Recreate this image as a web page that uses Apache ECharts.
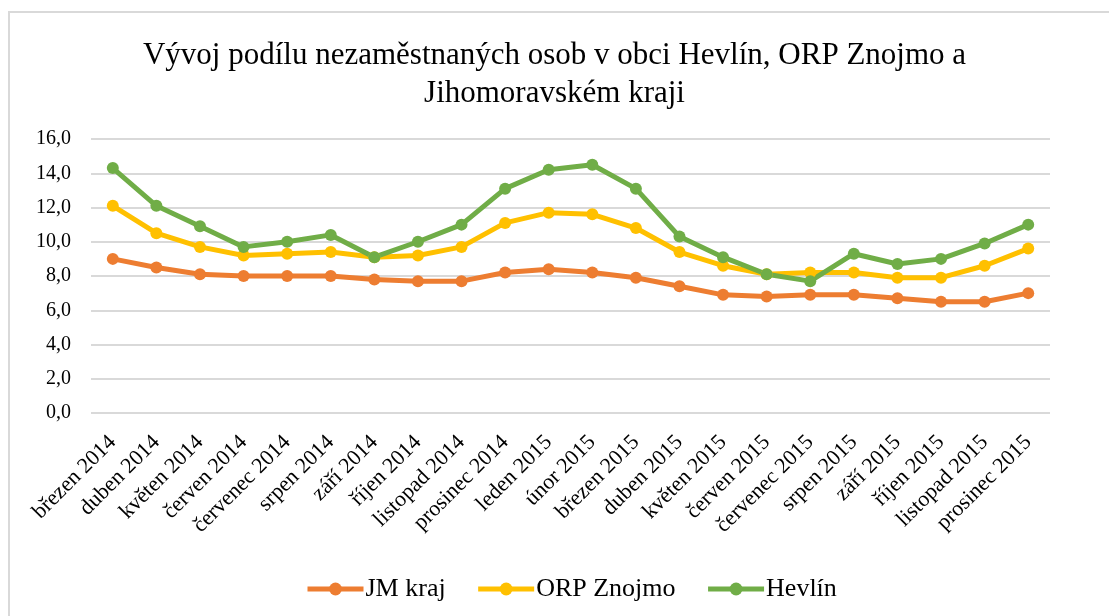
<!DOCTYPE html>
<html>
<head>
<meta charset="utf-8">
<script src="https://cdn.jsdelivr.net/npm/echarts@6/dist/echarts.min.js"></script>
<style>
  html, body { margin: 0; padding: 0; background: #fff; overflow: hidden; }
  #frame { position: absolute; left: 8px; top: 11px; width: 1200px; height: 700px;
           border-left: 2px solid #d9d9d9; border-top: 2px solid #d9d9d9; }
  #chart { position: absolute; left: 0; top: 0; width: 1109px; height: 616px; }
</style>
</head>
<body>
<div id="frame"></div>
<div id="chart"></div>
<script>
const months = ['březen 2014', 'duben 2014', 'květen 2014', 'červen 2014', 'červenec 2014',
  'srpen 2014', 'září 2014', 'říjen 2014', 'listopad 2014', 'prosinec 2014',
  'leden 2015', 'únor 2015', 'březen 2015', 'duben 2015', 'květen 2015', 'červen 2015',
  'červenec 2015', 'srpen 2015', 'září 2015', 'říjen 2015', 'listopad 2015', 'prosinec 2015'];

const jmKraj = [9.0, 8.5, 8.1, 8.0, 8.0, 8.0, 7.8, 7.7, 7.7, 8.2,
  8.4, 8.2, 7.9, 7.4, 6.9, 6.8, 6.9, 6.9, 6.7, 6.5, 6.5, 7.0];
const orpZnojmo = [12.1, 10.5, 9.7, 9.2, 9.3, 9.4, 9.1, 9.2, 9.7, 11.1,
  11.7, 11.6, 10.8, 9.4, 8.6, 8.1, 8.2, 8.2, 7.9, 7.9, 8.6, 9.6];
const hevlin = [14.3, 12.1, 10.9, 9.7, 10.0, 10.4, 9.1, 10.0, 11.0, 13.1,
  14.2, 14.5, 13.1, 10.3, 9.1, 8.1, 7.7, 9.3, 8.7, 9.0, 9.9, 11.0];

const serif = '"Liberation Serif", "DejaVu Serif", serif';

const chart = echarts.init(document.getElementById('chart'));

function line(name, data, color) {
  return {
    name: name,
    type: 'line',
    data: data,
    symbol: 'circle',
    symbolSize: 12,
    lineStyle: { width: 5, color: color },
    itemStyle: { color: color },
    emphasis: { disabled: true }
  };
}

chart.setOption({
  animation: false,
  title: {
    text: 'Vývoj podílu nezaměstnaných osob v obci Hevlín, ORP Znojmo a\nJihomoravském kraji',
    left: 'center',
    top: 32,
    textStyle: { fontFamily: serif, fontSize: 31, fontWeight: 'normal', color: '#000', lineHeight: 38 }
  },
  legend: {
    top: 571,
    left: 300,
    itemWidth: 56,
    itemHeight: 16,
    itemGap: 30,
    lineStyle: { width: 5 },
    textStyle: { fontFamily: serif, fontSize: 26, color: '#000', padding: [0, 0, 0, -3] },
    data: ['JM kraj', 'ORP Znojmo', 'Hevlín']
  },
  grid: { left: 91, right: 59, top: 139, bottom: 203 },
  xAxis: {
    type: 'category',
    data: months,
    boundaryGap: true,
    axisLine: { show: false },
    axisTick: { show: false },
    axisLabel: { rotate: 45, interval: 0, margin: 26, fontFamily: serif, fontSize: 22, color: '#000' }
  },
  yAxis: {
    type: 'value',
    min: 0,
    max: 16,
    interval: 2,
    axisLine: { show: false },
    axisTick: { show: false },
    splitLine: { lineStyle: { color: '#d9d9d9', width: 2 } },
    axisLabel: {
      margin: 20,
      fontFamily: serif, fontSize: 20, color: '#000',
      formatter: v => v.toFixed(1).replace('.', ',')
    }
  },
  series: [
    line('JM kraj', jmKraj, '#ED7D31'),
    line('ORP Znojmo', orpZnojmo, '#FFC000'),
    line('Hevlín', hevlin, '#70AD47')
  ]
});
</script>
</body>
</html>
